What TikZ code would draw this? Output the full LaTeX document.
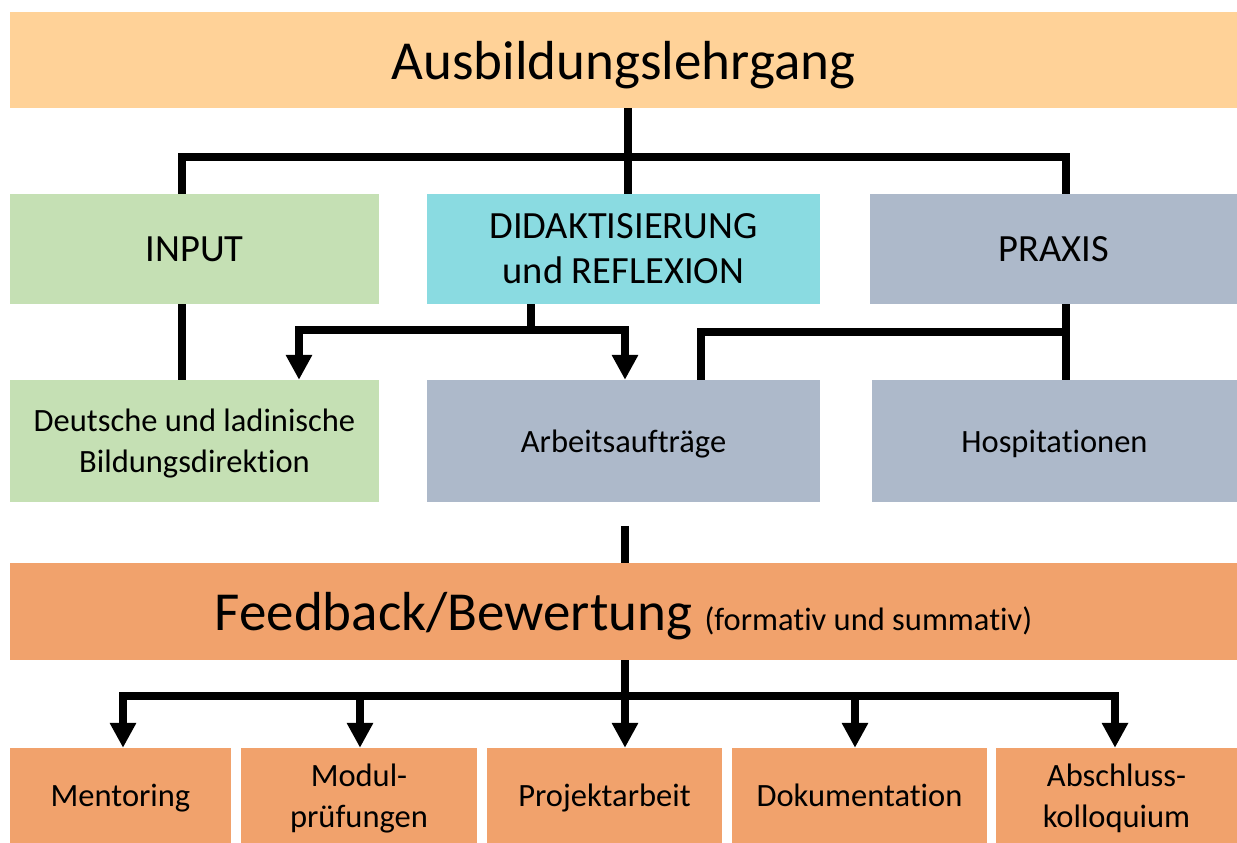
\documentclass[tikz,border=0pt]{standalone}
\usepackage{fontspec}
\setmainfont[Ligatures=NoCommon]{Carlito}
\usetikzlibrary{arrows.meta, backgrounds}

\tikzset{
  box/.style 2 args={rectangle, inner sep=0pt, align=center, text=black,
    text depth=0pt, minimum width=#1, minimum height=#2},
  bigtxt/.style={font=\fontsize{55}{65}\selectfont},
  midtxt/.style={font=\fontsize{38.5}{45}\selectfont},
  smalltxt/.style={font=\fontsize{32.5}{41}\selectfont},
  conn/.style={draw=black, line width=8pt},
  arr/.style={conn, -{Triangle[width=25pt,length=25pt]}},
  arrs/.style={conn, {Triangle[width=25pt,length=25pt]}-{Triangle[width=25pt,length=25pt]}}
}

\begin{document}
\begin{tikzpicture}[x=1pt,y=1pt]
\definecolor[named]{peachColor}{RGB}{255,210,152}
\definecolor[named]{greenColor}{RGB}{197,224,180}
\definecolor[named]{cyanColor}{RGB}{138,219,225}
\definecolor[named]{greyColor}{RGB}{173,185,202}
\definecolor[named]{orangeColor}{RGB}{241,162,108}
\path[use as bounding box,fill=white] (0,0) rectangle (1237,843);

% boxes
\node[box={1227}{96}, fill=peachColor, bigtxt] (lehrgang) at (623.5,783) {Ausbildungslehrgang};

\node[box={369}{110}, fill=greenColor, midtxt] (input) at (194.5,594) {INPUT};
\node[box={393}{110}, fill=cyanColor, midtxt] (didakt) at (623.5,594) {DIDAKTISIERUNG\\und REFLEXION};
\node[box={367}{110}, fill=greyColor, midtxt] (praxis) at (1053.5,594) {PRAXIS};

\node[box={369}{122}, fill=greenColor, smalltxt] (direktion) at (194.5,402) {Deutsche und ladinische\\Bildungsdirektion};
\node[box={393}{122}, fill=greyColor, smalltxt] (auftraege) at (623.5,402) {Arbeitsaufträge};
\node[box={365}{122}, fill=greyColor, smalltxt] (hospit) at (1054.5,402) {Hospitationen};

\node[box={1227}{97}, fill=orangeColor, bigtxt] (feedback) at (623.5,231.5)
  {Feedback/Bewertung {\fontsize{32.5}{38}\selectfont(formativ und summativ)}};

\node[box={221}{95}, fill=orangeColor, smalltxt] (mentor) at (120.5,47.5) {Mentoring};
\node[box={236}{95}, fill=orangeColor, smalltxt] (modul) at (359,47.5) {Modul-\\prüfungen};
\node[box={235}{95}, fill=orangeColor, smalltxt] (projekt) at (604.5,47.5) {Projektarbeit};
\node[box={255}{95}, fill=orangeColor, smalltxt] (doku) at (859.5,47.5) {Dokumentation};
\node[box={241}{95}, fill=orangeColor, smalltxt] (abschl) at (1116.5,47.5) {Abschluss-\\kolloquium};

% connectors
\coordinate (topmid) at (628,686);
\coordinate (topL) at (182,686);
\coordinate (topR) at (1066,686);
\draw[conn] (lehrgang.south -| topmid) -- (didakt.north -| topmid);
\draw[conn] (input.north -| topL) -- (topL) -- (topR) -- (praxis.north -| topR);

\draw[conn] (input.south -| topL) -- (direktion.north -| topL);

\coordinate (didmid) at (531,513);
\coordinate (didL) at (299,513);
\coordinate (didR) at (625,513);
\draw[conn] (didakt.south -| didmid) -- (didmid);
\draw[arrs] (direktion.north -| didL) -- (didL) -- (didR) -- (auftraege.north -| didR);

\coordinate (praR) at (1066,511);
\coordinate (praL) at (701,511);
\draw[conn] (praxis.south -| praR) -- (hospit.north -| praR);
\draw[conn] (praR) -- (praL) -- (auftraege.north -| praL);

\coordinate (stub) at (625,317);
\draw[conn] (stub) -- (feedback.north -| stub);

\coordinate (fbmid) at (625,147);
\coordinate (fbL) at (123,147);
\coordinate (fbR) at (1115,147);
\draw[conn] (feedback.south -| fbmid) -- (fbmid);
\draw[arrs] (mentor.north -| fbL) -- (fbL) -- (fbR) -- (abschl.north -| fbR);
\foreach \n/\x in {modul/360, projekt/625, doku/855} {
  \coordinate (b\n) at (\x,147);
  \draw[arr] (b\n) -- (\n.north -| b\n);
}
\end{tikzpicture}
\end{document}
